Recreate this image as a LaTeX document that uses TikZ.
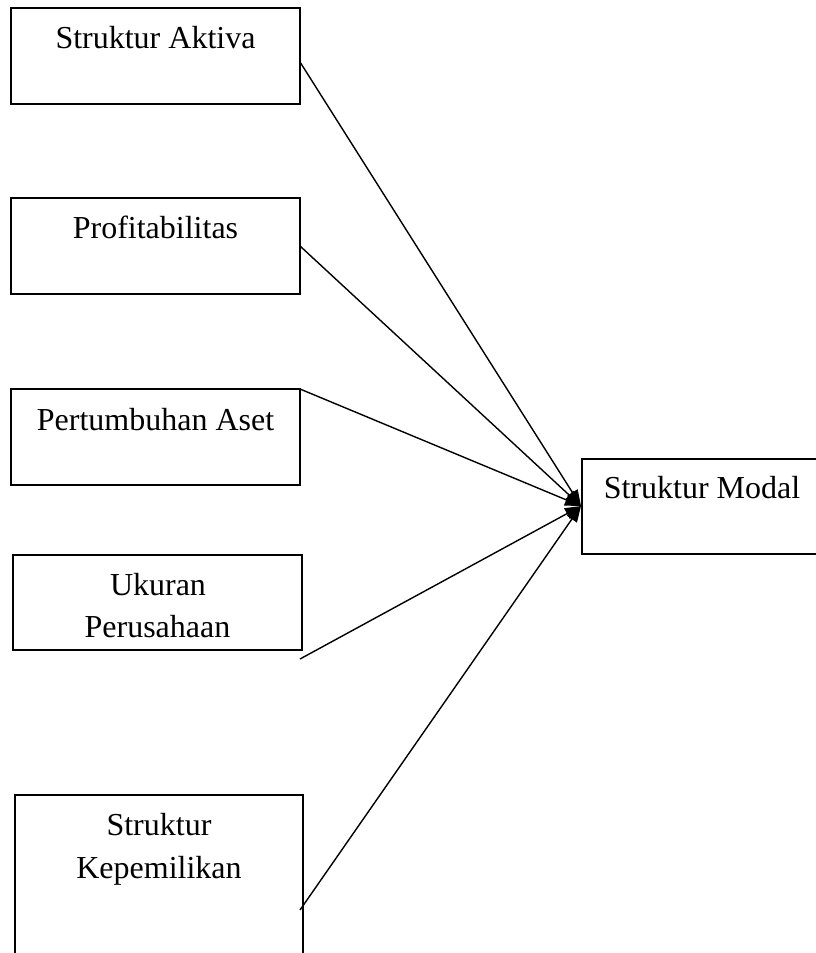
\documentclass[tikz,border=0pt]{standalone}
\usepackage{fontspec}
\setmainfont{Liberation Serif}
\usetikzlibrary{arrows.meta}
\begin{document}
\begin{tikzpicture}[x=1pt,y=-1pt,
  boxs/.style={draw=black, line width=1.5pt, rectangle, inner sep=0pt, outer sep=0pt},
  lbl/.style={inner sep=0pt, anchor=base, font=\fontsize{32}{42}\selectfont},
  conn/.style={draw=black, line width=1.4pt, -{Triangle[length=16pt,width=12pt]}}]
\useasboundingbox (0,0) rectangle (815,953);
\fill[white] (0,0) rectangle (815,953);
% boxes
\node[boxs, minimum width=289pt, minimum height=96pt] (b1) at (155.5,56) {};
\node[boxs, minimum width=289pt, minimum height=96pt] (b2) at (155.5,246) {};
\node[boxs, minimum width=289pt, minimum height=96pt] (b3) at (155.5,437) {};
\node[boxs, minimum width=289pt, minimum height=95pt] (b4) at (157.5,602.5) {};
\node[boxs, minimum width=288pt, minimum height=220pt] (b5) at (159,905) {};
\node[boxs, minimum width=242pt, minimum height=95pt] (b6) at (703,506.5) {};
% labels
\node[lbl] (t1) at (155.5,48) {Struktur Aktiva};
\node[lbl] (t2) at (155.5,238) {Profitabilitas};
\node[lbl] (t3) at (155.5,430) {Pertumbuhan Aset};
\node[lbl] (t4a) at (158,595) {Ukuran};
\node[lbl] (t4b) at (157.5,637) {Perusahaan};
\node[lbl] (t5a) at (159,835) {Struktur};
\node[lbl] (t5b) at (159,878) {Kepemilikan};
\node[lbl] (t6) at (702,498) {Struktur Modal};
% connector ends
\coordinate (s1) at (300,62);
\coordinate (s2) at (300,246);
\coordinate (s3) at (b3.north east);
\coordinate (s4) at (300,659);
\coordinate (s5) at (300,910);
\coordinate (tip) at (581,506);
\draw[conn] (s1) -- (tip);
\draw[conn] (s2) -- (tip);
\draw[conn] (s3) -- (tip);
\draw[conn] (s4) -- (tip);
\draw[conn] (s5) -- (tip);
\end{tikzpicture}
\end{document}
